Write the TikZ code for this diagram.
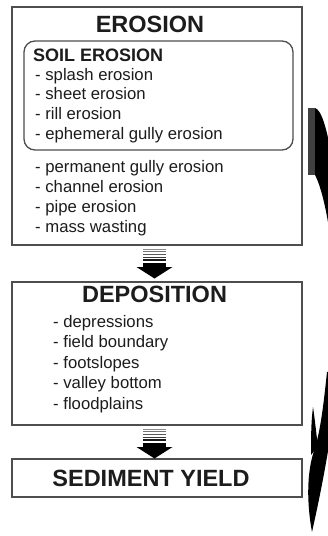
\documentclass[tikz,border=0pt]{standalone}
\usepackage{fontspec}
\setmainfont{Liberation Sans}
\definecolor{txt}{HTML}{1C1C1C}
\definecolor{frame}{HTML}{4E4E4E}
\tikzset{
  boxframe/.style={draw=frame, line width=1.6pt, rectangle, inner sep=0pt},
  title/.style={anchor=base, inner sep=0pt, text=txt, font=\fontsize{23.5}{27}\selectfont\bfseries},
  subtitle/.style={anchor=base west, inner sep=0pt, text=txt, font=\fontsize{18}{21}\selectfont\bfseries},
  item/.style={anchor=base west, inner sep=0pt, text=txt, font=\fontsize{16.7}{20}\selectfont},
  swoosh/.style={fill=black, draw=none}
}
\newcommand{\stripedarrow}[1]{%
  \begin{scope}[shift={#1}]
    \foreach \yy/\ww/\gg in {4/1.0/55, 6.8/1.2/45, 9.6/1.4/35, 12.4/1.7/22, 15.2/2.0/10}
      \fill[black!\gg!white!0!black, fill=black!\the\numexpr100-\gg\relax] (-11.5,\yy-\ww/2) rectangle (11.5,\yy+\ww/2);
    \fill[black] (-11.5,17.5) rectangle (11.5,23);
    \fill[black] (-18,22) -- (18,22) -- (0,33.5) -- cycle;
  \end{scope}}
\begin{document}
\begin{tikzpicture}[x=1pt, y=-1pt]
\useasboundingbox (0,0) rectangle (328,536);
\clip (0,0) rectangle (328,536);
\fill[white] (0,0) rectangle (328,536);

% boxes
\node[boxframe, minimum width=290pt, minimum height=238pt] (ero) at (157,126) {};
\node[boxframe, minimum width=290pt, minimum height=143pt] (dep) at (157,353.5) {};
\node[boxframe, minimum width=290pt, minimum height=37.5pt] (sed) at (157,478) {};
\node[draw=frame, line width=1.3pt, rounded corners=11pt, minimum width=269pt, minimum height=109pt, inner sep=0pt] (soil) at (158.5,95.5) {};

% titles
\node[title] (t1) at (150,32) {EROSION};
\node[subtitle] (t2) at (33,61.7) {SOIL EROSION};
\node[item] (a1) at (35,80) {- splash erosion};
\node[item] (a2) at (35,99.5) {- sheet erosion};
\node[item] (a3) at (35,119) {- rill erosion};
\node[item] (a4) at (35,139) {- ephemeral gully erosion};
\node[item] (b1) at (35,172) {- permanent gully erosion};
\node[item] (b2) at (35,192) {- channel erosion};
\node[item] (b3) at (35,212) {- pipe erosion};
\node[item] (b4) at (35,232) {- mass wasting};

\node[title] (t3) at (154.5,302.5) {DEPOSITION};
\node[item] (c1) at (53,327) {- depressions};
\node[item] (c2) at (53,347.5) {- field boundary};
\node[item] (c3) at (53,368) {- footslopes};
\node[item] (c4) at (53,388.5) {- valley bottom};
\node[item] (c5) at (53,409) {- floodplains};

\node[title] (t4) at (151,486) {SEDIMENT YIELD};

% striped arrows between boxes
\stripedarrow{(154.5,245)}
\stripedarrow{(154.5,425)}

% big curved swoosh at right edge
\fill[black!75] (308,108) rectangle (315,175);
\fill[swoosh] (315,108) .. controls (321,110) and (325,124) .. (329,142) -- (345,142) -- (345,240)
  -- (330,236) .. controls (327,212) and (321,186) .. (315,175) -- cycle;
\fill[swoosh] (345,370) -- (327,372) .. controls (324,400) and (321,428) .. (315,448)
  .. controls (306,472) and (307,505) .. (312,532)
  .. controls (318,505) and (324,476) .. (329,445) -- (345,445) -- cycle;
\fill[swoosh] (313,407) .. controls (311,422) and (311,440) .. (311,455) -- (318,446)
  .. controls (316,432) and (315,420) .. (313,407) -- cycle;
\end{tikzpicture}
\end{document}
